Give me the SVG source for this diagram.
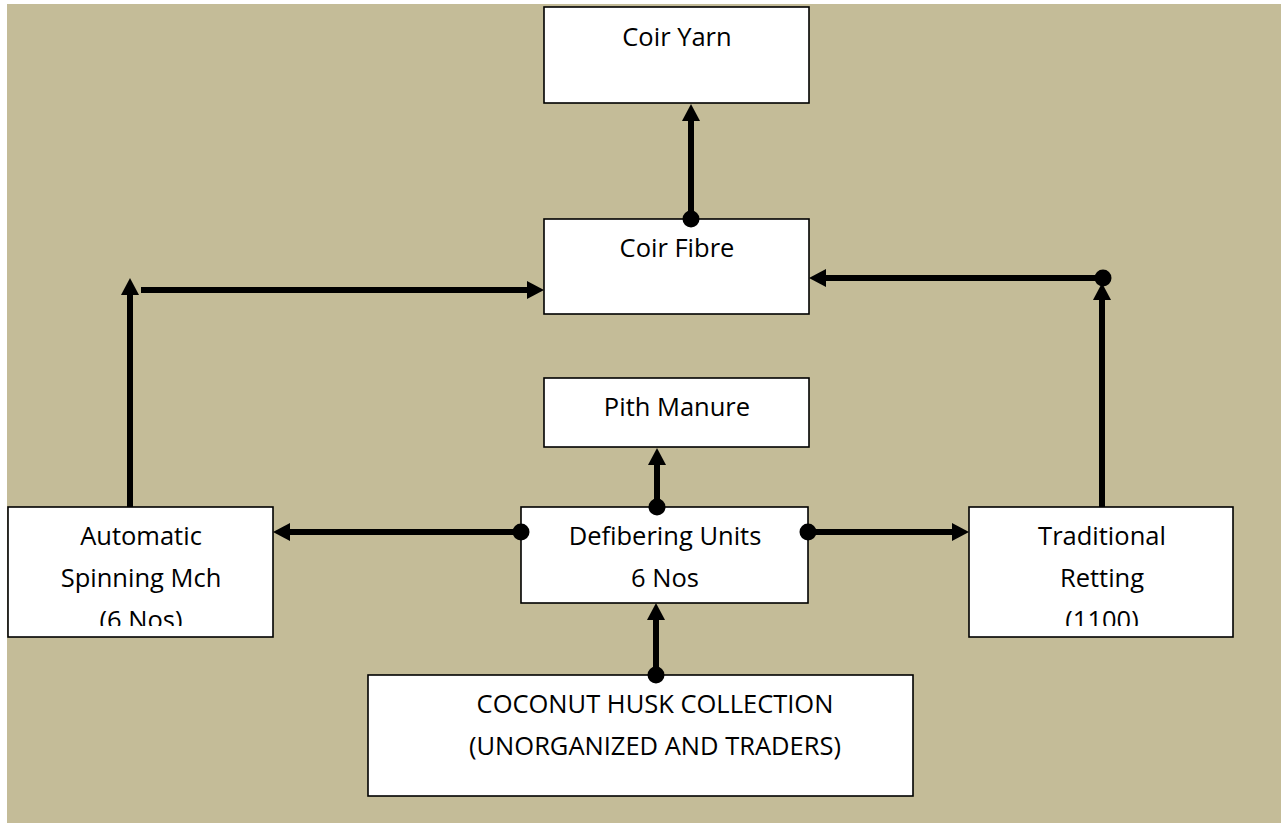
<svg xmlns="http://www.w3.org/2000/svg" width="1281" height="823" viewBox="0 0 1281 823">
<style>
.box{fill:#fff;stroke:#000;stroke-width:1.6}
.t{font-family:"Open Sans","Noto Sans",sans-serif;font-size:25.5px;fill:#000;text-anchor:middle}
.c{stroke:#000;stroke-width:6;fill:none}
</style>
<defs>
<marker id="ah" markerUnits="userSpaceOnUse" markerWidth="20" markerHeight="20" viewBox="0 -10 18 20" refX="0" refY="0" orient="auto" overflow="visible">
<path d="M0,-9 L17,0 L0,9 Z" fill="#000"/>
</marker>
<marker id="dot" markerUnits="userSpaceOnUse" markerWidth="20" markerHeight="20" viewBox="-10 -10 20 20" refX="0" refY="0" overflow="visible">
<circle cx="0" cy="0" r="8.5" fill="#000"/>
</marker>
<clipPath id="clipA"><rect x="8" y="507" width="266" height="119"/></clipPath>
<clipPath id="clipT"><rect x="969" y="507" width="264" height="119"/></clipPath>
</defs>
<rect x="7" y="4" width="1274" height="819" fill="#C4BC98"/>
<g id="coir-yarn">
<rect class="box" x="544" y="7" width="265" height="96"/>
<text class="t" x="677" y="46">Coir Yarn</text>
</g>
<g id="coir-fibre">
<rect class="box" x="544" y="219" width="265" height="95"/>
<text class="t" x="677" y="257">Coir Fibre</text>
</g>
<g id="pith-manure">
<rect class="box" x="544" y="378" width="265" height="69"/>
<text class="t" x="677" y="416">Pith Manure</text>
</g>
<g id="defibering">
<rect class="box" x="521" y="507" width="287" height="96"/>
<text class="t" x="665" y="545">Defibering Units</text>
<text class="t" x="665" y="587">6 Nos</text>
</g>
<g id="automatic">
<rect class="box" x="8" y="507" width="265" height="130"/>
<g clip-path="url(#clipA)">
<text class="t" x="141" y="545">Automatic</text>
<text class="t" x="141" y="587">Spinning Mch</text>
<text class="t" x="141" y="629">(6 Nos)</text>
</g>
</g>
<g id="traditional">
<rect class="box" x="969" y="507" width="264" height="130"/>
<g clip-path="url(#clipT)">
<text class="t" x="1102" y="545">Traditional</text>
<text class="t" x="1102" y="587">Retting</text>
<text class="t" x="1102" y="629">(1100)</text>
</g>
</g>
<g id="coconut">
<rect class="box" x="368" y="675" width="545" height="121"/>
<text class="t" x="655" y="713">COCONUT HUSK COLLECTION</text>
<text class="t" x="655" y="755">(UNORGANIZED AND TRADERS)</text>
</g>
<g id="connectors">
<path class="c" d="M691,219 L691,121" marker-start="url(#dot)" marker-end="url(#ah)"/>
<path class="c" d="M130,507 L130,295" marker-end="url(#ah)"/>
<path class="c" d="M141,290 L527,290" marker-end="url(#ah)"/>
<path class="c" d="M1102,507 L1102,300" marker-end="url(#ah)"/>
<path class="c" d="M1103,278 L826,278" marker-start="url(#dot)" marker-end="url(#ah)"/>
<path class="c" d="M657,507 L657,465" marker-start="url(#dot)" marker-end="url(#ah)"/>
<path class="c" d="M521,532 L290,532" marker-start="url(#dot)" marker-end="url(#ah)"/>
<path class="c" d="M808,532 L952,532" marker-start="url(#dot)" marker-end="url(#ah)"/>
<path class="c" d="M656,675 L656,620" marker-start="url(#dot)" marker-end="url(#ah)"/>
</g>
</svg>
